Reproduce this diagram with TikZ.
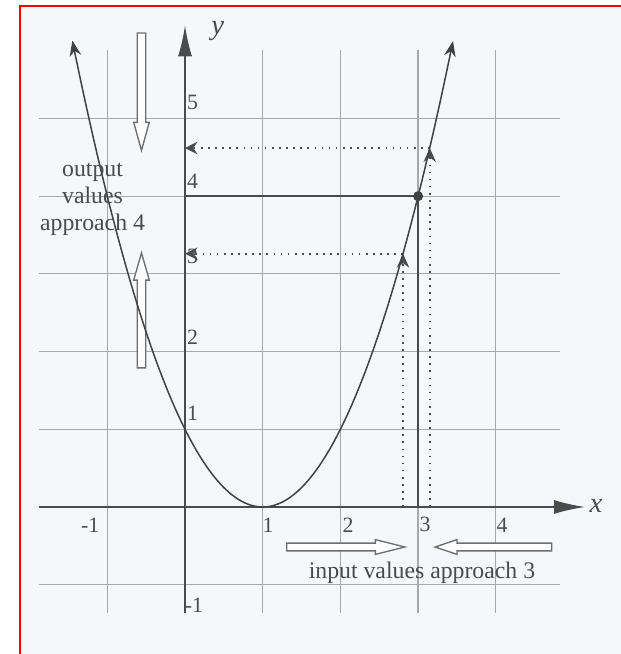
\documentclass[tikz,border=0pt]{standalone}
\usepackage{fontspec}
\setmainfont{Liberation Serif}
\usetikzlibrary{arrows.meta}
\definecolor{bgc}{RGB}{245,248,251}
\definecolor{gridc}{RGB}{168,168,168}
\definecolor{axc}{RGB}{75,75,75}
\definecolor{curvec}{RGB}{65,65,65}
\definecolor{blockc}{RGB}{110,110,110}
\tikzset{
  gridline/.style={gridc, line width=0.45pt},
  axisline/.style={axc, line width=0.65pt, -{Latex[length=4mm,width=1.8mm]}},
  curveline/.style={curvec, line width=0.55pt},
  guide/.style={axc, line width=0.7pt},
  dotguide/.style={axc, line width=0.6pt, dotted},
  blockarrow/.style={blockc, fill=white, line width=0.5pt, line join=miter},
  tick/.style={font=\fontsize{8}{9}\selectfont, text=axc, inner sep=0pt},
  axlabel/.style={font=\fontsize{10.5}{12}\selectfont\itshape, text=axc, inner sep=0pt},
  note/.style={font=\fontsize{8.7}{10}\selectfont, text=axc, align=center, inner sep=0pt}
}
\begin{document}
\begin{tikzpicture}[x=1cm,y=1cm]
\useasboundingbox (-2.381,-1.892) rectangle (5.611,6.525);
\fill[white] (-2.381,-1.892) rectangle (5.611,6.525);
\begin{scope}
  \clip (-2.381,-1.892) rectangle (5.611,6.525);
  \fill[bgc] (-2.124,-2.5) rectangle (6,6.448);
  \draw[red, line width=0.8pt] (-2.124,-2.5) -- (-2.124,6.448) -- (6,6.448);
\end{scope}

% grid
\foreach \x in {-1,1,2,3,4} \draw[gridline] (\x,-1.36) -- (\x,5.88);
\foreach \y in {-1,1,2,3,4,5} \draw[gridline] (-1.88,\y) -- (4.83,\y);

% block arrows
\draw[blockarrow] (-0.615,6.10) -- (-0.505,6.10) -- (-0.505,4.95) -- (-0.46,4.95) -- (-0.56,4.59) -- (-0.66,4.95) -- (-0.615,4.95) -- cycle;
\draw[blockarrow] (-0.615,1.79) -- (-0.505,1.79) -- (-0.505,2.92) -- (-0.46,2.92) -- (-0.56,3.27) -- (-0.66,2.92) -- (-0.615,2.92) -- cycle;
\draw[blockarrow] (1.31,-0.465) -- (2.45,-0.465) -- (2.45,-0.42) -- (2.83,-0.515) -- (2.45,-0.61) -- (2.45,-0.565) -- (1.31,-0.565) -- cycle;
\draw[blockarrow] (4.72,-0.465) -- (3.50,-0.465) -- (3.50,-0.42) -- (3.22,-0.515) -- (3.50,-0.61) -- (3.50,-0.565) -- (4.72,-0.565) -- cycle;

% axes
\coordinate (xs) at (-1.88,0);
\coordinate (xe) at (5.15,0);
\coordinate (ys) at (0,-1.36);
\coordinate (ye) at (0,6.20);
\draw[axisline] (xs) -- (xe);
\draw[axisline] (ys) -- (ye);
\node[axlabel] (xl) at (5.29,0.02) {x};
\node[axlabel] (yl) at (0.42,6.12) {y};

% tick labels
\node[tick, anchor=west] (t5) at (0.02,5.20) {5};
\node[tick, anchor=west] (t4) at (0.02,4.19) {4};
\node[tick, anchor=west] (t3) at (0.02,3.23) {3};
\node[tick, anchor=west] (t2) at (0.02,2.19) {2};
\node[tick, anchor=west] (t1) at (0.02,1.21) {1};
\node[tick, anchor=west] (tm1) at (-0.01,-1.26) {-1};
\node[tick] (xm1) at (-1.22,-0.24) {-1};
\node[tick] (x1) at (1.07,-0.23) {1};
\node[tick] (x2) at (2.10,-0.23) {2};
\node[tick] (x3) at (3.09,-0.23) {3};
\node[tick] (x4) at (4.08,-0.23) {4};

% guides
\coordinate (o4) at (0,4);
\coordinate (p) at (3,4);
\coordinate (x3b) at (3,0);
\draw[guide] (o4) -- (p) -- (x3b);

\coordinate (la) at (2.806,0);
\coordinate (lc) at (2.806,3.26);
\coordinate (ly) at (0,3.26);
\coordinate (ua) at (3.15,0);
\coordinate (uc) at (3.15,4.62);
\coordinate (uy) at (0,4.62);
\draw[dotguide, -{Stealth[length=1.8mm,width=1.6mm]}] (la) -- (lc);
\draw[dotguide, -{Stealth[length=1.8mm,width=1.6mm]}] (ua) -- (uc);
\draw[dotguide, -{Stealth[length=1.6mm,width=1.6mm]}] (lc) -- (ly);
\draw[dotguide, -{Stealth[length=1.6mm,width=1.6mm]}] (uc) -- (uy);

% parabola
\draw[curveline, {Stealth[length=2mm,width=1.5mm]}-{Stealth[length=2mm,width=1.5mm]}, domain=-1.45:3.45, samples=120, smooth] plot (\x,{(\x-1)^2});
\fill[curvec] (p) circle (0.065);

% notes
\node[note] (out) at (-1.19,3.96) {output\\values\\approach 4};
\node[note] (inp) at (3.05,-0.85) {input values approach 3};
\end{tikzpicture}
\end{document}
